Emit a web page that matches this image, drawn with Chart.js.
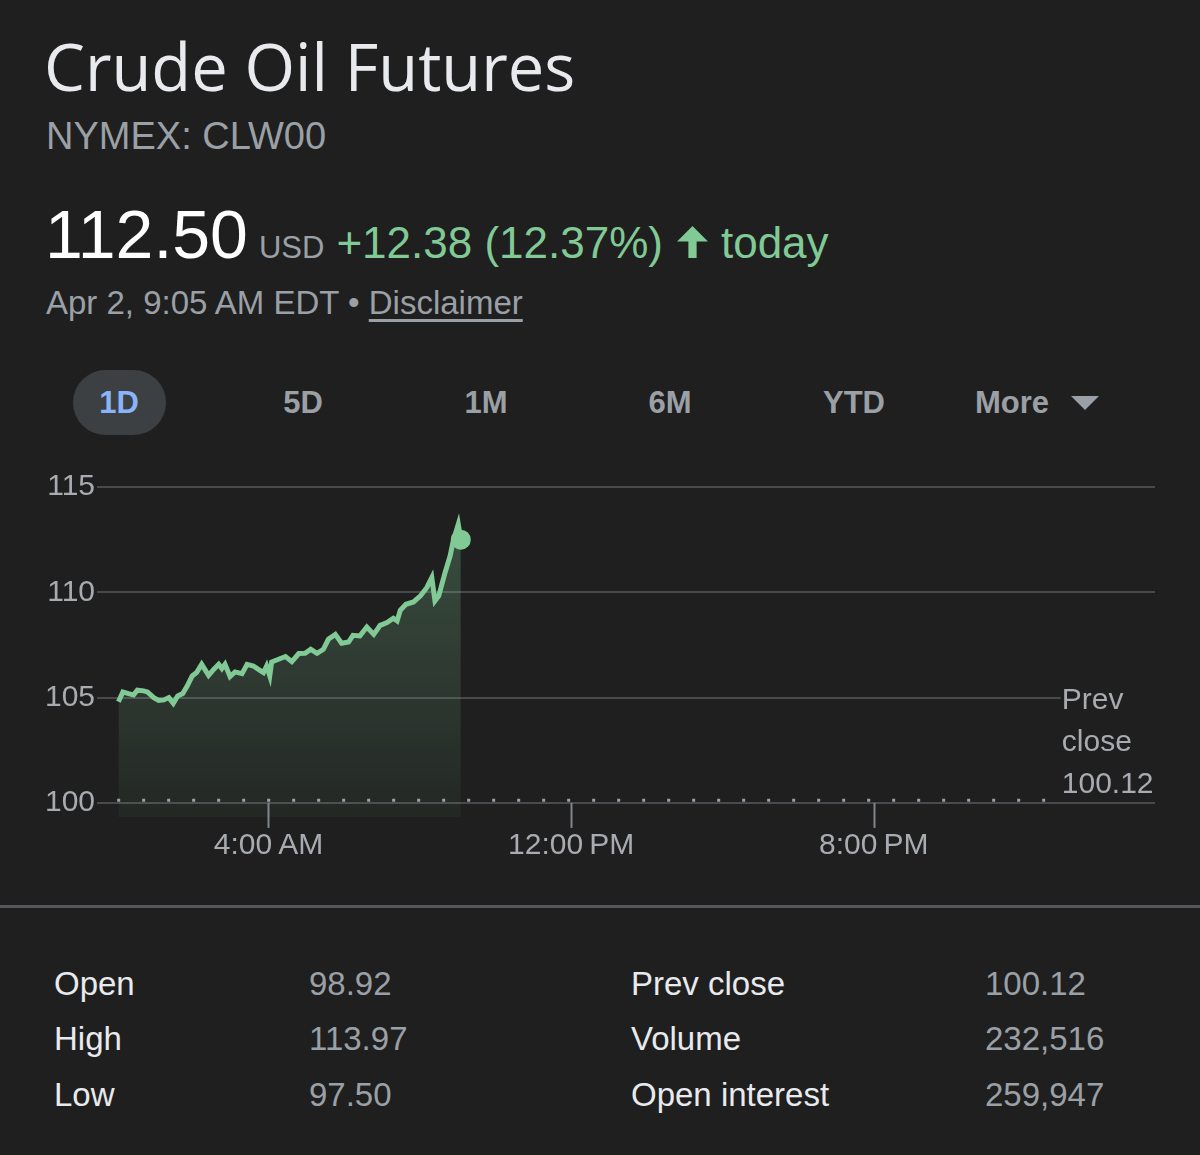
<!DOCTYPE html>
<html>
<head>
<meta charset="utf-8">
<script src="https://cdn.jsdelivr.net/npm/chart.js@4.4.1/dist/chart.umd.min.js"></script>
<style>
  html, body { margin: 0; padding: 0; }
  body { width: 1200px; height: 1155px; background: #1f1f1f; position: relative; overflow: hidden;
         font-family: "Liberation Sans", Arial, sans-serif; }
  .abs { position: absolute; line-height: 1; white-space: nowrap; }
  #title { left: 44px; top: 34px; font-family: "Open Sans", sans-serif; font-size: 65px; color: #e8eaed; }
  #ticker { left: 46px; top: 117px; font-size: 38px; color: #9aa0a6; }
  #quote { left: 45px; top: 200px; display: flex; align-items: baseline; }
  #price { font-size: 68px; color: #ffffff; }
  #cur { font-size: 31px; color: #9aa0a6; margin-left: 11px; }
  #chg { font-size: 44px; color: #81c995; margin-left: 12px; display: flex; align-items: baseline; }
  #chg svg { margin: 0 12px 0 13px; }
  #stamp { left: 46px; top: 286px; font-size: 33px; color: #9aa0a6; }
  #stamp u { text-underline-offset: 5px; }
  .tab { position: absolute; top: 370px; height: 65px; line-height: 65px; width: 160px; text-align: center;
         font-size: 31px; font-weight: bold; color: #9aa0a6; }
  #pill { position: absolute; left: 73px; top: 370px; width: 93px; height: 65px; border-radius: 33px; background: #3c4043; }
  #sep { position: absolute; left: 0; top: 905px; width: 1200px; height: 3px; background: #545659; }
  .st { position: absolute; line-height: 1; font-size: 33px; }
  .lab { color: #e8eaed; }
  .val { color: #9aa0a6; }
  #chartBox { position: absolute; left: 0; top: 460px; width: 1200px; height: 420px; }
</style>
</head>
<body>
<div id="title" class="abs">Crude Oil Futures</div>
<div id="ticker" class="abs">NYMEX: CLW00</div>
<div id="quote" class="abs">
  <span id="price">112.50</span><span id="cur">USD</span>
  <span id="chg">+12.38 (12.37%)<svg width="33" height="33" viewBox="0 0 32 32"><path d="M16 1 L31 16 L20 16 L20 32 L12 32 L12 16 L1 16 Z" fill="#81c995"/></svg>today</span>
</div>
<div id="stamp" class="abs">Apr 2, 9:05 AM EDT • <u>Disclaimer</u></div>

<div id="pill"></div>
<div class="tab" style="left:39px;color:#8ab4f8">1D</div>
<div class="tab" style="left:223px">5D</div>
<div class="tab" style="left:406px">1M</div>
<div class="tab" style="left:590px">6M</div>
<div class="tab" style="left:774px">YTD</div>
<div class="tab" style="left:932px">More</div>
<svg style="position:absolute;left:1071px;top:396px" width="28" height="14" viewBox="0 0 28 14"><path d="M0 0 L28 0 L14 14 Z" fill="#9aa0a6"/></svg>

<div id="chartBox"><canvas id="chart" width="1200" height="420"></canvas></div>

<div id="sep"></div>
<div class="st lab" style="left:54px;top:967px">Open</div>
<div class="st val" style="left:309px;top:967px">98.92</div>
<div class="st lab" style="left:54px;top:1022px">High</div>
<div class="st val" style="left:309px;top:1022px">113.97</div>
<div class="st lab" style="left:54px;top:1078px">Low</div>
<div class="st val" style="left:309px;top:1078px">97.50</div>
<div class="st lab" style="left:631px;top:967px">Prev close</div>
<div class="st val" style="left:985px;top:967px">100.12</div>
<div class="st lab" style="left:631px;top:1022px">Volume</div>
<div class="st val" style="left:985px;top:1022px">232,516</div>
<div class="st lab" style="left:631px;top:1078px">Open interest</div>
<div class="st val" style="left:985px;top:1078px">259,947</div>

<script>
// minutes after midnight (EDT)
var times = [2, 9, 18, 26, 32, 42, 48, 58, 66, 74,
             82, 89, 96, 104, 111, 119, 126, 134, 145, 153,
             161, 166, 171, 179, 187, 198, 206, 216, 224, 232,
             237, 242, 245, 256, 267, 277, 288, 298, 307, 317,
             327, 335, 346, 356, 367, 374, 385, 396, 407, 417,
             428, 438, 444, 449, 458, 470, 481, 491, 499, 504,
             510, 520, 528, 533, 541, 545];
var prices = [104.80, 105.27, 105.19, 105.13, 105.35, 105.32, 105.27, 105.00, 104.87, 104.89,
              105.00, 104.73, 105.08, 105.19, 105.55, 106.03, 106.19, 106.58, 106.06, 106.34,
              106.58, 106.38, 106.58, 106.00, 106.22, 106.14, 106.58, 106.50, 106.34, 106.19,
              106.50, 106.03, 106.69, 106.82, 106.95, 106.71, 107.09, 107.10, 107.29, 107.10,
              107.29, 107.77, 108.00, 107.58, 107.64, 107.96, 107.93, 108.35, 108.00, 108.43,
              108.56, 108.77, 108.64, 109.15, 109.43, 109.54, 109.83, 110.22, 110.70, 109.59,
              109.83, 110.93, 111.72, 112.44, 113.23, 112.50];
var prevClose = 100.12;
var prevCloseSpan = [0, 1495];
var yTicks = [100, 105, 110, 115];
var timeTicks = [240, 720, 1200];

var bg = '#1f1f1f';
var green = '#81c995';

function fmtTime(m) {
    var h = Math.floor(m / 60), mm = m % 60;
    var ap = h < 12 ? 'AM' : 'PM';
    var hh = h % 12 === 0 ? 12 : h % 12;
    return hh + ':' + (mm < 10 ? '0' : '') + mm + '\u2009' + ap;
}

var priceData = times.map(function (t, i) { return { x: t, y: prices[i] }; });
var prevData = prevCloseSpan.map(function (t) { return { x: t, y: prevClose }; });

var marks = {
    id: 'marks',
    afterDatasetsDraw: function (chart) {
        var ctx = chart.ctx, x = chart.scales.x, y = chart.scales.y;
        var y0 = y.getPixelForValue(yTicks[0]);
        ctx.save();
        ctx.strokeStyle = '#80868b';
        ctx.lineWidth = 2;
        timeTicks.forEach(function (t) {
            var px = Math.round(x.getPixelForValue(t)) + 0.5;
            ctx.beginPath();
            ctx.moveTo(px, y0);
            ctx.lineTo(px, y0 + 25);
            ctx.stroke();
        });
        // prev close label, right of the dotted line
        var lx = x.getPixelForValue(prevCloseSpan[1]);
        var yp = y.getPixelForValue(prevClose);
        ctx.fillStyle = bg;
        ctx.fillRect(lx + 1, yp - 120, chart.width - lx, 110);
        ctx.fillStyle = '#a8acb0';
        ctx.font = '30px "Liberation Sans", Arial, sans-serif';
        ctx.textBaseline = 'middle';
        ctx.textAlign = 'left';
        ctx.fillText('Prev', lx + 2, yp - 100);
        ctx.fillText('close', lx + 2, yp - 58);
        ctx.fillText(prevClose.toFixed(2), lx + 2, yp - 16);
        ctx.restore();
    }
};

new Chart(document.getElementById('chart').getContext('2d'), {
    type: 'line',
    data: {
        datasets: [
            {
                data: priceData,
                borderColor: green,
                borderWidth: 5,
                tension: 0,
                fill: 'start',
                backgroundColor: function (c) {
                    var area = c.chart.chartArea;
                    if (!area) return 'rgba(129,201,149,0.15)';
                    var g = c.chart.ctx.createLinearGradient(0, area.top, 0, area.bottom);
                    g.addColorStop(0, 'rgba(129,201,149,0.30)');
                    g.addColorStop(1, 'rgba(129,201,149,0.05)');
                    return g;
                },
                pointRadius: function (c) { return c.dataIndex === prices.length - 1 ? 10 : 0; },
                pointBackgroundColor: green,
                pointBorderWidth: 0,
                order: 1
            },
            {
                data: prevData,
                borderColor: '#9aa0a6',
                borderWidth: 3,
                borderDash: [3, 22],
                pointRadius: 0,
                fill: false,
                order: 2
            }
        ]
    },
    options: {
        responsive: false,
        animation: false,
        layout: { padding: { top: 27, right: 45, left: 0, bottom: 0 } },
        plugins: { legend: { display: false }, tooltip: { enabled: false } },
        scales: {
            x: {
                type: 'linear',
                min: -32,
                max: 1646,
                afterBuildTicks: function (s) { s.ticks = timeTicks.map(function (v) { return { value: v }; }); },
                afterFit: function (s) { s.height = 63; },
                grid: { display: false },
                border: { display: false },
                ticks: {
                    color: '#a8acb0',
                    font: { size: 30, family: '"Liberation Sans", Arial, sans-serif' },
                    padding: 3,
                    maxRotation: 0,
                    autoSkip: false,
                    callback: function (v) { return fmtTime(v); }
                }
            },
            y: {
                min: 99.33,
                max: 115,
                afterBuildTicks: function (s) { s.ticks = yTicks.map(function (v) { return { value: v }; }); },
                afterFit: function (s) { s.width = 97; },
                grid: { color: '#47494c', lineWidth: 2, drawTicks: false },
                border: { display: false },
                ticks: {
                    color: '#a8acb0',
                    font: { size: 30, family: '"Liberation Sans", Arial, sans-serif' },
                    padding: 2
                }
            }
        }
    },
    plugins: [marks]
});
</script>
</body>
</html>
